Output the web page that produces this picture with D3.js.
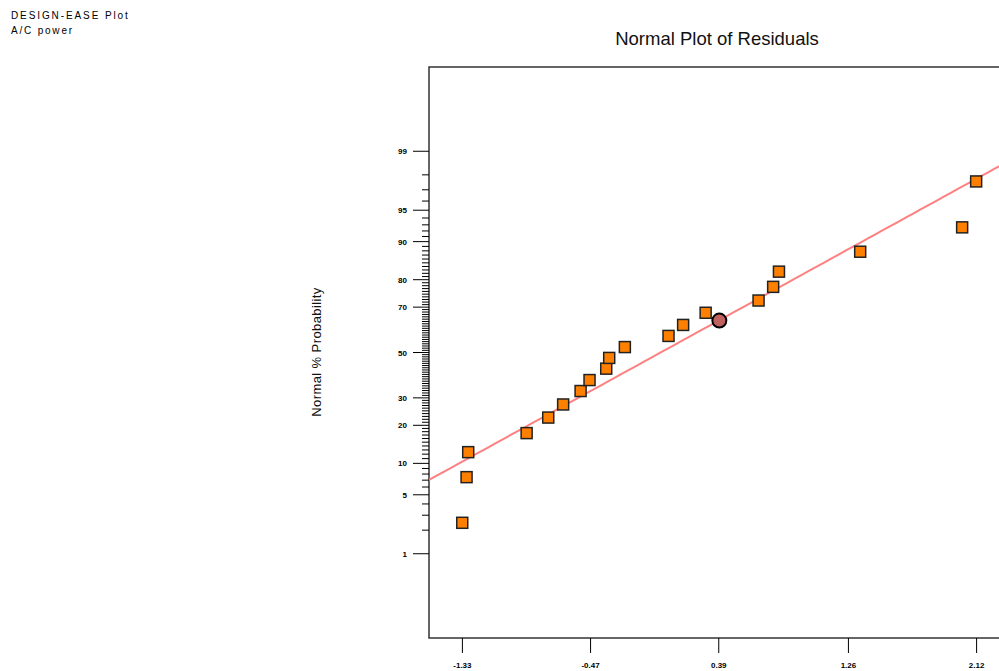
<!DOCTYPE html>
<html><head><meta charset="utf-8">
<script src="https://cdn.jsdelivr.net/npm/d3@7"></script>
<style>body{margin:0;background:#fff;}svg{display:block;font-family:Arial,"Liberation Sans",sans-serif;}</style>
</head><body>
<svg id="c" width="999" height="671"></svg>
<script>
// Residuals (x) and normal % probability (y)
const residuals = [-1.331,-1.302,-1.291,-0.899,-0.754,-0.654,-0.537,-0.477,-0.365,-0.345,-0.240,0.053,0.151,0.302,0.657,0.755,0.794,1.339,2.023,2.117];
const probabilities = [2.45,7.48,12.47,17.57,22.6,27.4,32.8,37.5,42.6,47.5,52.5,57.6,62.5,67.7,72.6,77.6,82.5,87.8,92.6,97.6];
const highlightResidual = [0.394];
const highlightProbability = [64.4];
const xTickValues = [-1.33,-0.47,0.39,1.26,2.12];
const xTickLabels = ["-1.33","-0.47","0.39","1.26","2.12"];
const yMajorTicks = [1,5,10,20,30,50,70,80,90,95,99];
const yMinorTicks = d3.range(2,99).filter(v=>!yMajorTicks.includes(v));
const lineResidualRange = [-1.556, 2.6];
const lineSigma = 1.055;
const yProbDomain = [0.0483, 99.9517];

// inverse normal CDF (Acklam)
function probit(p){
  const a=[-3.969683028665376e+01,2.209460984245205e+02,-2.759285104469687e+02,1.383577518672690e+02,-3.066479806614716e+01,2.506628277459239e+00];
  const b=[-5.447609879822406e+01,1.615858368580409e+02,-1.556989798598866e+02,6.680131188771972e+01,-1.328068155288572e+01];
  const c=[-7.784894002430293e-03,-3.223964580411365e-01,-2.400758277161838e+00,-2.549732539343734e+00,4.374664141464968e+00,2.938163982698783e+00];
  const d=[7.784695709041462e-03,3.224671290700398e-01,2.445134137142996e+00,3.754408661907416e+00];
  const pl=0.02425;let q,r;
  if(p<pl){q=Math.sqrt(-2*Math.log(p));return (((((c[0]*q+c[1])*q+c[2])*q+c[3])*q+c[4])*q+c[5])/((((d[0]*q+d[1])*q+d[2])*q+d[3])*q+1);}
  if(p>1-pl){q=Math.sqrt(-2*Math.log(1-p));return -(((((c[0]*q+c[1])*q+c[2])*q+c[3])*q+c[4])*q+c[5])/((((d[0]*q+d[1])*q+d[2])*q+d[3])*q+1);}
  q=p-0.5;r=q*q;return (((((a[0]*r+a[1])*r+a[2])*r+a[3])*r+a[4])*r+a[5])*q/(((((b[0]*r+b[1])*r+b[2])*r+b[3])*r+b[4])*r+1);
}

const svg = d3.select("#c");
const pLeft=429, pTop=67, pBottom=638, pRight=1012;

const x = d3.scaleLinear().domain([-1.33,2.12]).range([462.4,976.6]);
const zScale = d3.scaleLinear().domain([probit(yProbDomain[0]/100), probit(yProbDomain[1]/100)]).range([pBottom, pTop]);
const y = p => zScale(probit(p/100));

// headings
svg.append("text").attr("x",11).attr("y",19).attr("font-size",10).attr("letter-spacing",1.9).attr("fill","#000").text("DESIGN-EASE Plot");
svg.append("text").attr("x",11).attr("y",34).attr("font-size",10).attr("letter-spacing",1.8).attr("fill","#000").text("A/C power");
svg.append("text").attr("x",717).attr("y",45).attr("text-anchor","middle").attr("font-size",18.5).attr("fill","#111").text("Normal Plot of Residuals");
svg.append("text").attr("transform","translate(321,352) rotate(-90)").attr("text-anchor","middle").attr("font-size",13).attr("letter-spacing",0.4).attr("fill","#111").text("Normal % Probability");

// frame
svg.append("rect").attr("x",pLeft).attr("y",pTop).attr("width",pRight-pLeft).attr("height",pBottom-pTop)
  .attr("fill","none").attr("stroke","#333").attr("stroke-width",1.5);

// y axis ticks
const gy = svg.append("g");
gy.selectAll("line.minor").data(yMinorTicks).join("line").attr("class","minor")
  .attr("x1",pLeft-7).attr("x2",pLeft).attr("y1",d=>y(d)).attr("y2",d=>y(d)).attr("stroke","#000").attr("stroke-width",1);
gy.selectAll("line.major").data(yMajorTicks).join("line").attr("class","major")
  .attr("x1",pLeft-16).attr("x2",pLeft).attr("y1",d=>y(d)).attr("y2",d=>y(d)).attr("stroke","#000").attr("stroke-width",1);
gy.selectAll("text").data(yMajorTicks).join("text")
  .attr("x",407).attr("y",d=>y(d)+3).attr("text-anchor","end").attr("font-size",8).attr("font-weight","bold").attr("fill","#000").text(d=>d);

// x axis ticks
const gx = svg.append("g");
gx.selectAll("line").data(xTickValues).join("line")
  .attr("x1",d=>x(d)).attr("x2",d=>x(d)).attr("y1",pBottom).attr("y2",pBottom+15).attr("stroke","#000").attr("stroke-width",1);
gx.selectAll("text").data(xTickValues).join("text")
  .attr("x",d=>x(d)).attr("y",pBottom+30).attr("text-anchor","middle").attr("font-size",8).attr("font-weight","bold").attr("fill","#000").text((d,i)=>xTickLabels[i]);

// fit line
svg.append("defs").append("clipPath").attr("id","clip").append("rect").attr("x",pLeft).attr("y",pTop).attr("width",pRight-pLeft).attr("height",pBottom-pTop);
const lineGen = d3.line().x(d=>x(d)).y(d=>zScale(d/lineSigma));
svg.append("path").datum(d3.range(lineResidualRange[0], lineResidualRange[1]+0.001, 0.05)).attr("d",lineGen)
  .attr("clip-path","url(#clip)").attr("fill","none").attr("stroke","#FF8080").attr("stroke-width",2);

// points
const s=11;
svg.selectAll("rect.pt").data(residuals).join("rect").attr("class","pt")
  .attr("x",d=>x(d)-s/2).attr("y",(d,i)=>y(probabilities[i])-s/2).attr("width",s).attr("height",s)
  .attr("fill","#FF8000").attr("stroke","#222").attr("stroke-width",1.5);

svg.selectAll("circle.hl").data(highlightResidual).join("circle").attr("class","hl")
  .attr("cx",d=>x(d)).attr("cy",(d,i)=>y(highlightProbability[i])).attr("r",7)
  .attr("fill","#C0605F").attr("stroke","#000").attr("stroke-width",2);
</script>
</body></html>
